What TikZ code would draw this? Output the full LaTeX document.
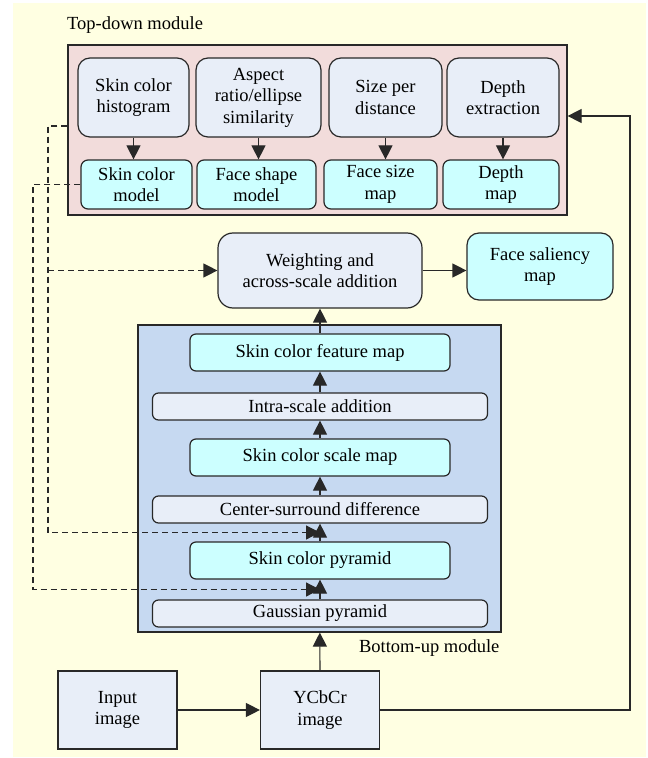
\documentclass[tikz,border=0pt]{standalone}
\usepackage{fontspec}
\setmainfont{Liberation Serif}
\usepackage{tikz}
\usetikzlibrary{arrows.meta}
\usetikzlibrary{calc}
\usetikzlibrary{positioning}
\definecolor{BgYellow}{RGB}{255,255,226}
\definecolor{TDPink}{RGB}{242,220,219}
\definecolor{BUBlue}{RGB}{198,217,241}
\definecolor{ProcGrey}{RGB}{232,238,248}
\definecolor{MapCyan}{RGB}{204,255,255}
\definecolor{LineGray}{RGB}{40,40,40}
\tikzset{
	frame/.style={draw=LineGray, line width=0.6pt, inner sep=0pt},
	proc/.style={frame, fill=ProcGrey, align=center},
	mapbox/.style={frame, fill=MapCyan, align=center},
	arr/.style={-{Triangle[length=7pt,width=7pt]}, line width=0.6pt, draw=LineGray},
	dsh/.style={dash pattern=on 3pt off 2pt, line width=0.6pt}
}

\begin{document}
\begin{tikzpicture}[x=0.5pt, y=-0.5pt, font=\fontsize{9.25}{10.8}\selectfont]
		\useasboundingbox (0,0) rectangle (647,758);
		\fill[BgYellow] (13,3) rectangle (646,757);
		% containers
		\node[frame, fill=TDPink, minimum width=249.5pt, minimum height=85pt] (tdm) at (317.5,130) {};
		\node[frame, fill=BUBlue, minimum width=181.5pt, minimum height=153.5pt] (bum) at (319.5,478.5) {};
		\node[anchor=west] (tdl) at (60,25) {Top-down module};
		\node[anchor=west] (bul) at (352,648) {Bottom-up module};
		% top-down cues
		\node[proc, rounded corners=6pt, minimum width=55.5pt, minimum height=39.5pt] (hist) at (133.5,97.5) {Skin color\\histogram};
		\node[proc, rounded corners=6pt, minimum width=62.5pt, minimum height=39.5pt] (asp) at (258.5,97.5) {Aspect\\ratio/ellipse\\similarity};
		\node[proc, rounded corners=6pt, minimum width=56.5pt, minimum height=39.5pt] (spd) at (385.5,97.5) {Size per\\distance};
		\node[proc, rounded corners=6pt, minimum width=56pt, minimum height=39.5pt] (dex) at (503,97.5) {Depth\\extraction};
		\node[mapbox, rounded corners=3.5pt, minimum width=55.5pt, minimum height=24.5pt] (scm) at (136.5,184.5) {Skin color\\model};
		\node[mapbox, rounded corners=3.5pt, minimum width=59.5pt, minimum height=24.5pt] (fsm) at (256.5,184.5) {Face shape\\model};
		\node[mapbox, rounded corners=3.5pt, minimum width=56.5pt, minimum height=24.5pt] (fzm) at (380.5,184.5) {Face size\\map};
		\node[mapbox, rounded corners=3.5pt, minimum width=58pt, minimum height=24.5pt] (dpm) at (501,184.5) {Depth\\map};
		\draw[arr] (hist) -- (hist |- scm.north);
		\draw[arr] (asp) -- (asp |- fsm.north);
		\draw[arr] (spd) -- (spd |- fzm.north);
		\draw[arr] (dex) -- (dex |- dpm.north);
		% combination
		\node[proc, rounded corners=7.5pt, minimum width=102pt, minimum height=37.5pt] (wt) at (320,270.5) {Weighting and\\across-scale addition};
		\node[mapbox, rounded corners=6pt, minimum width=73pt, minimum height=33.5pt] (fsal) at (540,266.5) {Face saliency\\map};
		\draw[arr] (wt.east) -- (wt.east -| fsal.west);
		% bottom-up column
		\node[mapbox, rounded corners=3pt, minimum width=130pt, minimum height=18.5pt] (feat) at (320,352.5) {Skin color feature map};
		\node[proc, rounded corners=3pt, minimum width=167.5pt, minimum height=13.5pt] (intra) at (320,406.5) {Intra-scale addition};
		\node[mapbox, rounded corners=3pt, minimum width=130pt, minimum height=18.5pt] (scale) at (320,457.5) {Skin color scale map};
		\node[proc, rounded corners=3pt, minimum width=167.5pt, minimum height=13.5pt] (csd) at (320,509.5) {Center-surround difference};
		\node[mapbox, rounded corners=3pt, minimum width=130pt, minimum height=18.5pt] (pyr) at (320,560.5) {Skin color pyramid};
		\node[proc, rounded corners=3pt, minimum width=167.5pt, minimum height=13.5pt] (gauss) at (320,613.5) {Gaussian pyramid};
		\draw[arr] (gauss) -- (pyr);
		\draw[arr] (pyr) -- (csd);
		\draw[arr] (csd) -- (scale);
		\draw[arr] (scale) -- (intra);
		\draw[arr] (intra) -- (feat);
		\draw[arr] (feat) -- (wt);
		% input
		\node[proc, minimum width=59.5pt, minimum height=39pt] (inp) at (117.5,710) {Input\\image};
		\node[proc, minimum width=59.5pt, minimum height=39pt] (yc) at (320,710) {YCbCr\\image};
		\draw[arr] (inp) -- (yc);
		\draw[arr] (yc) -- (bum);
		\coordinate (fb) at (630,116);
		\draw[arr] (yc.east) -| (fb) -- (fb -| tdm.east);
		% dashed feeds
		\coordinate (jA) at ($(csd.south)!0.5!(pyr.north)$);
		\coordinate (jB) at ($(pyr.south)!0.5!(gauss.north)$);
		\coordinate (xA) at (48,0);
		\coordinate (xB) at (33,0);
		\draw[arr, dsh] (tdm.west |- 0,126) -| (xA |- jA) -- (jA);
		\draw[arr, dsh] (xA |- wt.west) -- (wt.west);
		\draw[arr, dsh] (scm.west) -| (xB |- jB) -- (jB);
	\end{tikzpicture}
\end{document}
